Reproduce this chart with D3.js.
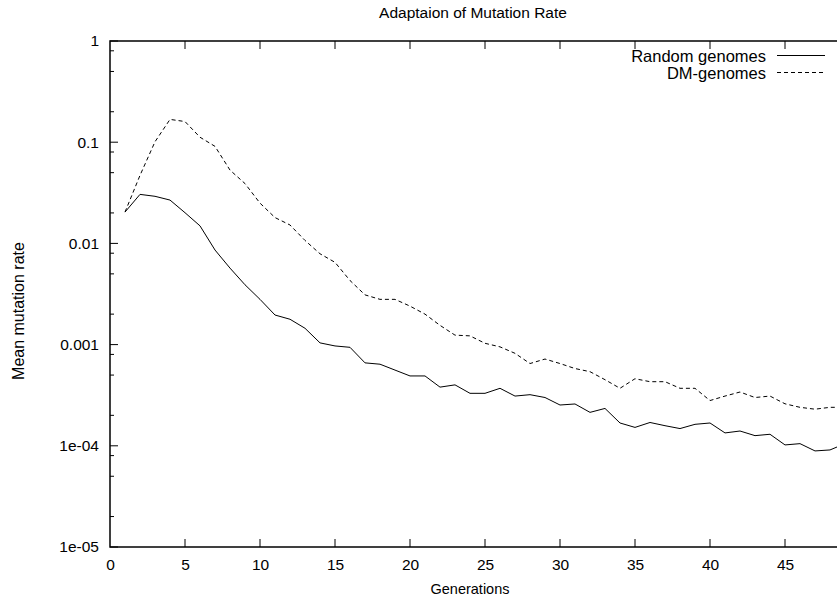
<html>
  <head>
    <title>Adaptaion of Mutation Rate</title>
    <style>
      body { margin: 0; background: #fff; }
      text { font-family: "Liberation Sans", Arial, Helvetica, sans-serif; fill: #000; }
    </style>
  </head>
  <body>
    <script src="https://d3js.org/d3.v7.min.js"></script>
    <script>
      // Data
      var generations = d3.range(1, 50);
      var randomGenomes = [
        0.0204, 0.0305, 0.0292, 0.0268, 0.0201, 0.0149, 0.0086, 0.0057, 0.0039, 0.0028,
        0.00196, 0.00178, 0.00145, 0.00104, 0.00097, 0.00094, 0.00066, 0.00064, 0.00056, 0.00049,
        0.00049, 0.00038, 0.00040, 0.00033, 0.00033, 0.00037, 0.00031, 0.00032, 0.00030, 0.000253,
        0.000259, 0.000214, 0.000234, 0.000168, 0.000152, 0.000170, 0.000158, 0.000148, 0.000163, 0.000168,
        0.000134, 0.000140, 0.000126, 0.000130, 0.000102, 0.000105, 0.000089, 0.000091, 0.000105
      ];
      var dmGenomes = [
        0.0204, 0.047, 0.101, 0.168, 0.160, 0.112, 0.091, 0.053, 0.039, 0.025,
        0.018, 0.0152, 0.0107, 0.0079, 0.0065, 0.0043, 0.0031, 0.0028, 0.0028, 0.0024,
        0.0020, 0.00155, 0.00124, 0.00122, 0.00103, 0.00095, 0.00082, 0.00065, 0.00072, 0.00065,
        0.00058, 0.00054, 0.00045, 0.00037, 0.00046, 0.00043, 0.00043, 0.00037, 0.00037, 0.00028,
        0.00031, 0.00034, 0.00030, 0.00031, 0.00026, 0.00024, 0.00023, 0.00024, 0.00024
      ];
      var xTicks = [0, 5, 10, 15, 20, 25, 30, 35, 40, 45];
      var yTicks = [1, 0.1, 0.01, 0.001, 1e-4, 1e-5];
      var yTickLabels = ['1', '0.1', '0.01', '0.001', '1e-04', '1e-05'];
      var minorFactors = [2, 5, 8];

      var WIDTH = 837, HEIGHT = 602;
      var LEFT = 110, TOP = 41, BOTTOM = 547, RIGHT = 860; // right edge falls outside the picture
      var FONT = 15.5;

      var svg = d3.select('body').append('svg')
        .attr('width', WIDTH)
        .attr('height', HEIGHT)
        .style('display', 'block');

      var x = d3.scaleLinear().domain([0, 50]).range([LEFT, RIGHT]);
      var y = d3.scaleLog().domain([1e-5, 1]).range([BOTTOM, TOP]);

      // Minor ticks on log axis
      var minorTicks = [];
      yTicks.slice(0, -1).forEach(function(t) {
        minorFactors.forEach(function(f) { minorTicks.push(t / 10 * f); });
      });

      // Bottom axis labels
      var xAxis = d3.axisBottom(x).tickValues(xTicks).tickSize(0).tickPadding(12);
      svg.append('g')
        .attr('transform', 'translate(0,' + BOTTOM + ')')
        .call(xAxis)
        .call(function(g) {
          g.select('.domain').remove();
          g.selectAll('text').attr('font-size', FONT).attr('dy', '0.71em');
        });

      // Ticks, mirrored on top
      var tickG = svg.append('g').attr('stroke', '#000').attr('stroke-width', 1);
      xTicks.forEach(function(t) {
        if (t === 0) return;
        tickG.append('line').attr('x1', x(t)).attr('x2', x(t)).attr('y1', BOTTOM).attr('y2', BOTTOM - 8);
        tickG.append('line').attr('x1', x(t)).attr('x2', x(t)).attr('y1', TOP).attr('y2', TOP + 8);
      });

      // Left axis labels
      var yAxis = d3.axisLeft(y).tickValues(yTicks).tickSize(0).tickPadding(11)
        .tickFormat(function(d, i) { return yTickLabels[i]; });
      svg.append('g')
        .attr('transform', 'translate(' + LEFT + ',0)')
        .call(yAxis)
        .call(function(g) {
          g.select('.domain').remove();
          g.selectAll('text').attr('font-size', FONT);
        });

      yTicks.forEach(function(t) {
        tickG.append('line').attr('x1', LEFT).attr('x2', LEFT + 8).attr('y1', y(t)).attr('y2', y(t));
      });
      minorTicks.forEach(function(t) {
        tickG.append('line').attr('x1', LEFT).attr('x2', LEFT + 4).attr('y1', y(t)).attr('y2', y(t));
      });

      // Frame
      svg.append('rect')
        .attr('x', LEFT).attr('y', TOP)
        .attr('width', RIGHT - LEFT).attr('height', BOTTOM - TOP)
        .attr('fill', 'none').attr('stroke', '#000').attr('stroke-width', 1.5);

      // Lines
      var line = d3.line()
        .x(function(d) { return x(d[0]); })
        .y(function(d) { return y(d[1]); });

      svg.append('path')
        .datum(d3.zip(generations, randomGenomes))
        .attr('fill', 'none').attr('stroke', '#000').attr('stroke-width', 1)
        .attr('d', line);

      svg.append('path')
        .datum(d3.zip(generations, dmGenomes))
        .attr('fill', 'none').attr('stroke', '#000').attr('stroke-width', 1)
        .attr('stroke-dasharray', '4,3')
        .attr('d', line);

      // Legend
      var legend = [
        { name: 'Random genomes', dash: null, y: 56 },
        { name: 'DM-genomes', dash: '4,3', y: 73 }
      ];
      legend.forEach(function(l) {
        svg.append('text').text(l.name)
          .attr('x', 766).attr('y', l.y).attr('dy', '0.35em')
          .attr('font-size', 16.5).attr('text-anchor', 'end');
        svg.append('line')
          .attr('x1', 777).attr('x2', 825).attr('y1', l.y - 0.5).attr('y2', l.y - 0.5)
          .attr('stroke', '#000').attr('stroke-width', 1)
          .attr('stroke-dasharray', l.dash);
      });

      // Titles
      svg.append('text').text('Adaptaion of Mutation Rate')
        .attr('x', 473).attr('y', 13).attr('dy', '0.35em')
        .attr('font-size', FONT).attr('text-anchor', 'middle');
      svg.append('text').text('Generations')
        .attr('x', 470).attr('y', 589).attr('dy', '0.35em')
        .attr('font-size', 14.5).attr('text-anchor', 'middle');
      svg.append('text').text('Mean mutation rate')
        .attr('transform', 'translate(24,311) rotate(-90)')
        .attr('font-size', 16).attr('text-anchor', 'middle');
    </script>
  </body>
</html>
